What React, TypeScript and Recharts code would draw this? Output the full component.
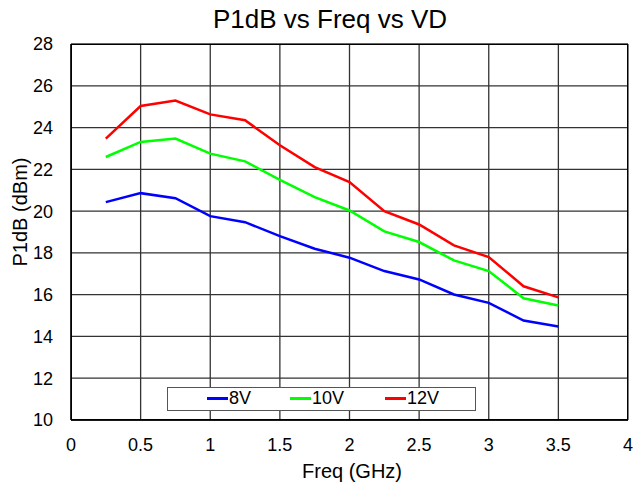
import React from 'react';
import {
    LineChart, Line, XAxis, YAxis, CartesianGrid, Label
} from 'recharts';

// Values
const freqs = [0.25, 0.5, 0.75, 1, 1.25, 1.5, 1.75, 2, 2.25, 2.5, 2.75, 3, 3.25, 3.5];
const p1dB8V = [20.43, 20.86, 20.62, 19.76, 19.47, 18.8, 18.2, 17.77, 17.13, 16.73, 16.01, 15.61, 14.76, 14.48];
const p1dB10V = [22.59, 23.31, 23.47, 22.75, 22.38, 21.5, 20.67, 20.03, 19.03, 18.52, 17.64, 17.13, 15.83, 15.48];
const p1dB12V = [23.47, 25.03, 25.29, 24.63, 24.35, 23.15, 22.11, 21.39, 20.0, 19.36, 18.36, 17.8, 16.4, 15.87];

const xTicks = [0, 0.5, 1, 1.5, 2, 2.5, 3, 3.5, 4];
const yTicks = [10, 12, 14, 16, 18, 20, 22, 24, 26, 28];

const SERIES = [
    { key: 'v8', name: '8V', color: '#0000FF', values: p1dB8V },
    { key: 'v10', name: '10V', color: '#00FF00', values: p1dB10V },
    { key: 'v12', name: '12V', color: '#FF0000', values: p1dB12V },
];

const data = freqs.map((f, i) => {
    const row: Record<string, number> = { freq: f };
    SERIES.forEach(s => { row[s.key] = s.values[i]; });
    return row;
});

const FONT = 'Arial, "Liberation Sans", sans-serif';

// legend box drawn like the original: one row, framed, sitting inside the plot
function LegendBox() {
    const slots = [206, 289, 384];
    return (
        <div style={{
            position: 'absolute', left: 167, top: 387, width: 309, height: 24, boxSizing: 'border-box',
            border: '1.5px solid #555', background: '#fff', fontSize: 18,
        }}>
            {SERIES.map((s, i) => (
                <div key={s.key} style={{
                    position: 'absolute', left: slots[i] - 167, top: 0, height: 21,
                    display: 'flex', alignItems: 'center',
                }}>
                    <span style={{ display: 'inline-block', width: 21, height: 2.5, background: s.color, marginRight: 1 }} />
                    <span style={{ color: '#000', lineHeight: '21px' }}>{s.name}</span>
                </div>
            ))}
        </div>
    );
}

export default function App() {
    return (
        <div style={{ position: 'absolute', left: 0, top: 0, width: 635, height: 484, background: '#fff', fontFamily: FONT }}>
            <div style={{
                position: 'absolute', left: 0, width: 660, top: 4, textAlign: 'center',
                fontSize: 26, color: '#000', lineHeight: '30px',
            }}>
                P1dB vs Freq vs VD
            </div>
            <LineChart width={635} height={484} data={data} margin={{ top: 44, right: 7, left: 0, bottom: 0 }}>
                <CartesianGrid stroke="#333" strokeWidth={1.3} />
                <XAxis
                    dataKey="freq" type="number" domain={[0, 4]} ticks={xTicks}
                    height={64} tickSize={0} tickMargin={18}
                    axisLine={{ stroke: '#000', strokeWidth: 1.3 }} tickLine={false}
                    tick={{ fontSize: 18, fill: '#000', fontFamily: FONT }}
                >
                    <Label content={() => (
                        <text x={352} y={478} textAnchor="middle" fontSize={20} fill="#000" fontFamily={FONT}>Freq (GHz)</text>
                    )} />
                </XAxis>
                <YAxis
                    type="number" domain={[10, 28]} ticks={yTicks} width={71}
                    tickSize={0} tickMargin={18}
                    axisLine={{ stroke: '#000', strokeWidth: 1.3 }} tickLine={false}
                    tick={{ fontSize: 18, fill: '#000', fontFamily: FONT }}
                >
                    <Label content={() => (
                        <text x={20} y={212} transform="rotate(-90 20 212)" textAnchor="middle"
                            dominantBaseline="central" fontSize={20} fill="#000" fontFamily={FONT}>P1dB (dBm)</text>
                    )} />
                </YAxis>
                {SERIES.map(s => (
                    <Line key={s.key} dataKey={s.key} name={s.name} stroke={s.color} strokeWidth={2.5}
                        dot={false} activeDot={false} isAnimationActive={false} type="linear" />
                ))}
            </LineChart>
            {/* frame around the plot area */}
            <div style={{
                position: 'absolute', left: 71, top: 44, width: 557, height: 376,
                border: '1.3px solid #000', boxSizing: 'border-box', pointerEvents: 'none',
            }} />
            <LegendBox />
        </div>
    );
}
